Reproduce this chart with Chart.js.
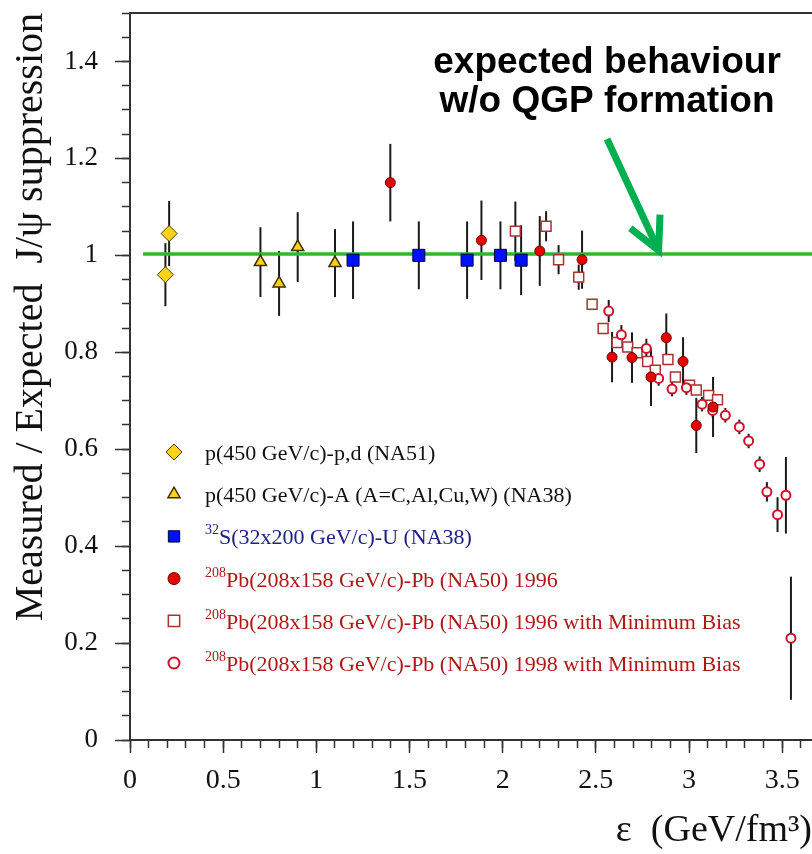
<!DOCTYPE html>
<html lang="en">
<head>
<meta charset="UTF-8">
<title>J/psi suppression vs energy density</title>
<script src="https://cdn.jsdelivr.net/npm/chart.js"></script>
<style>
  html, body { margin: 0; padding: 0; background: #fff; }
  #wrap { width: 812px; height: 854px; }
</style>
</head>
<body>
<div id="wrap"><canvas id="chart" width="812" height="854"></canvas></div>
<script>
// --- data ---
const na51X = [0.19, 0.21];
const na51Y = [0.96, 1.045];
const na51Err = [0.065, 0.067];

const pAX = [0.70, 0.80, 0.90, 1.10];
const pAY = [0.986, 0.942, 1.017, 0.984];
const pAErr = [0.072, 0.067, 0.072, 0.070];

const suX = [1.197, 1.55, 1.809, 1.988, 2.099];
const suY = [0.99, 1.0, 0.99, 1.0, 0.99];
const suErr = [0.08, 0.07, 0.08, 0.07, 0.072];

const pb96X = [1.397, 1.886, 2.199, 2.426, 2.587, 2.694, 2.796, 2.878, 2.968, 3.039, 3.129];
const pb96Y = [1.150, 1.031, 1.009, 0.991, 0.790, 0.789, 0.749, 0.830, 0.781, 0.649, 0.687];
const pb96Err = [0.08, 0.082, 0.072, 0.06, 0.052, 0.052, 0.06, 0.05, 0.05, 0.057, 0.062];

const pb96mbX = [2.068, 2.233, 2.30, 2.408, 2.48, 2.539, 2.614, 2.671, 2.721, 2.778, 2.819, 2.887, 2.927, 3.003, 3.039, 3.105, 3.153];
const pb96mbY = [1.050, 1.060, 0.991, 0.955, 0.899, 0.849, 0.820, 0.811, 0.799, 0.781, 0.763, 0.785, 0.749, 0.732, 0.722, 0.711, 0.702];
const pb96mbErr = [0.061, 0.031, 0.03, 0.026, 0.01, 0.01, 0.01, 0.01, 0.01, 0.01, 0.01, 0.01, 0.01, 0.01, 0.01, 0.01, 0.01];

const pb98mbX = [2.569, 2.637, 2.771, 2.837, 2.909, 2.986, 3.07, 3.127, 3.195, 3.270, 3.320, 3.379, 3.418, 3.475, 3.52, 3.547];
const pb98mbY = [0.885, 0.836, 0.808, 0.746, 0.724, 0.727, 0.693, 0.680, 0.670, 0.646, 0.617, 0.569, 0.512, 0.465, 0.505, 0.210];
const pb98mbErr = [0.023, 0.02, 0.02, 0.015, 0.015, 0.015, 0.015, 0.015, 0.015, 0.015, 0.015, 0.016, 0.02, 0.036, 0.079, 0.127];

// expected behaviour line
const refX = [0.07, 3.66];
const refY = [1.003, 1.003];

const xMax = 3.66;
const yMax = 1.5;

const noteLines = ['expected behaviour', 'w/o QGP formation'];
const noteX = 2.56;
const noteY = [1.398, 1.316];
const arrowFrom = [2.56, 1.24];
const arrowTo = [2.837, 1.01];

const serif = "'Liberation Serif', 'DejaVu Serif', serif";
const fmt = v => String(Math.round(v * 100) / 100);
const toPoints = (xs, ys) => xs.map((x, i) => ({ x, y: ys[i] }));

// keep the plot frame where the reference has it (no label overhang padding)
const fixWidth = w => s => { s.width = w; s.paddingTop = 0; s.paddingBottom = 0; };
const fixHeight = h => s => { s.height = h; s.paddingLeft = 0; s.paddingRight = 0; };

// vertical error bars, drawn under the markers
const errorBars = {
    id: 'errorBars',
    beforeDatasetsDraw(chart) {
        const { ctx } = chart;
        const xs = chart.scales.x, ys = chart.scales.y;
        ctx.save();
        ctx.strokeStyle = '#1a1a1a';
        ctx.lineWidth = 2;
        chart.data.datasets.forEach(ds => {
            if (!ds.errors) return;
            ds.data.forEach((p, i) => {
                const e = ds.errors[i];
                const px = xs.getPixelForValue(p.x);
                ctx.beginPath();
                ctx.moveTo(px, ys.getPixelForValue(p.y - e));
                ctx.lineTo(px, ys.getPixelForValue(p.y + e));
                ctx.stroke();
            });
        });
        ctx.restore();
    }
};

// legend inside the plot, with superscript isotope numbers
const legendBox = {
    id: 'legendBox',
    afterDraw(chart) {
        const { ctx } = chart;
        const markX = 174, textX = 205, top = 452, step = 42.2;
        let row = 0;
        ctx.save();
        chart.data.datasets.forEach(ds => {
            if (!ds.legendColor) return;
            const y = top + row * step;
            ctx.fillStyle = ds.pointBackgroundColor;
            ctx.strokeStyle = ds.pointBorderColor;
            ctx.lineWidth = ds.pointBorderWidth;
            Chart.helpers.drawPoint(ctx, {
                pointStyle: ds.pointStyle,
                radius: ds.legendRadius || ds.pointRadius,
                rotation: 0,
                borderWidth: ds.pointBorderWidth
            }, markX, y);
            ctx.fillStyle = ds.legendColor;
            ctx.textBaseline = 'alphabetic';
            ctx.textAlign = 'left';
            let x = textX;
            if (ds.sup) {
                ctx.font = `14px ${serif}`;
                ctx.fillText(ds.sup, x, y - 2);
                x += ctx.measureText(ds.sup).width;
            }
            ctx.font = `22px ${serif}`;
            ctx.fillText(ds.label, x, y + 8);
            row++;
        });
        ctx.restore();
    }
};

// text note and green arrow
const note = {
    id: 'note',
    afterDatasetsDraw(chart) {
        const { ctx } = chart;
        const xs = chart.scales.x, ys = chart.scales.y;
        ctx.save();
        ctx.fillStyle = '#000';
        ctx.font = "bold 37px 'Liberation Sans', Arial, sans-serif";
        ctx.textAlign = 'center';
        ctx.textBaseline = 'middle';
        noteLines.forEach((t, i) => {
            ctx.fillText(t, xs.getPixelForValue(noteX), ys.getPixelForValue(noteY[i]));
        });

        const x0 = xs.getPixelForValue(arrowFrom[0]), y0 = ys.getPixelForValue(arrowFrom[1]);
        const x1 = xs.getPixelForValue(arrowTo[0]), y1 = ys.getPixelForValue(arrowTo[1]);
        const ang = Math.atan2(y1 - y0, x1 - x0);
        const head = 36, spread = 27 * Math.PI / 180;
        ctx.strokeStyle = '#00b050';
        ctx.lineWidth = 7;
        ctx.lineJoin = 'miter';
        ctx.beginPath();
        ctx.moveTo(x0, y0);
        ctx.lineTo(x1, y1);
        ctx.stroke();
        ctx.beginPath();
        ctx.moveTo(x1 - head * Math.cos(ang - spread), y1 - head * Math.sin(ang - spread));
        ctx.lineTo(x1, y1);
        ctx.lineTo(x1 - head * Math.cos(ang + spread), y1 - head * Math.sin(ang + spread));
        ctx.stroke();
        ctx.restore();
    }
};

const ctx = document.getElementById('chart').getContext('2d');
new Chart(ctx, {
    type: 'scatter',
    data: {
        datasets: [
            {
                label: 'p(450 GeV/c)-p,d (NA51)',
                data: toPoints(na51X, na51Y), errors: na51Err,
                pointStyle: 'rectRot', pointRadius: 8, legendRadius: 8,
                pointBackgroundColor: '#ffd21a', pointBorderColor: '#4a3c00', pointBorderWidth: 1,
                legendColor: '#111', order: 5
            },
            {
                label: 'p(450 GeV/c)-A (A=C,Al,Cu,W) (NA38)',
                data: toPoints(pAX, pAY), errors: pAErr,
                pointStyle: 'triangle', pointRadius: 7,
                pointBackgroundColor: '#ffd21a', pointBorderColor: '#3a3000', pointBorderWidth: 1.5,
                legendColor: '#111', order: 5
            },
            {
                label: 'S(32x200 GeV/c)-U (NA38)', sup: '32',
                data: toPoints(suX, suY), errors: suErr,
                pointStyle: 'rect', pointRadius: 8.5, legendRadius: 8,
                pointBackgroundColor: '#0010ff', pointBorderColor: '#000033', pointBorderWidth: 1,
                legendColor: '#1c2288', order: 4
            },
            {
                label: 'Pb(208x158 GeV/c)-Pb (NA50) 1996', sup: '208',
                data: toPoints(pb96X, pb96Y), errors: pb96Err,
                pointStyle: 'circle', pointRadius: 5, legendRadius: 6,
                pointBackgroundColor: '#e80000', pointBorderColor: '#6a0000', pointBorderWidth: 1,
                legendColor: '#b01818', order: 1
            },
            {
                label: 'Pb(208x158 GeV/c)-Pb (NA50) 1996 with Minimum Bias', sup: '208',
                data: toPoints(pb96mbX, pb96mbY), errors: pb96mbErr,
                pointStyle: 'rect', pointRadius: 7, legendRadius: 8,
                pointBackgroundColor: '#ffffff', pointBorderColor: '#a83232', pointBorderWidth: 1.5,
                legendColor: '#b01818', order: 3
            },
            {
                label: 'Pb(208x158 GeV/c)-Pb (NA50) 1998 with Minimum Bias', sup: '208',
                data: toPoints(pb98mbX, pb98mbY), errors: pb98mbErr,
                pointStyle: 'circle', pointRadius: 4.5, legendRadius: 5.5,
                pointBackgroundColor: '#ffffff', pointBorderColor: '#d0102a', pointBorderWidth: 2,
                legendColor: '#b01818', order: 2
            },
            {
                type: 'line',
                label: 'expected',
                data: toPoints(refX, refY),
                borderColor: '#33b533', borderWidth: 3.5,
                pointRadius: 0, order: 10
            }
        ]
    },
    options: {
        responsive: false,
        animation: false,
        events: [],
        layout: { autoPadding: false, padding: { top: 13, right: 0, left: 0, bottom: 0 } },
        plugins: { legend: { display: false }, tooltip: { enabled: false } },
        scales: {
            x: {
                type: 'linear', position: 'bottom', min: 0, max: xMax, weight: 1,
                afterFit: fixHeight(114),
                ticks: {
                    stepSize: 0.5, includeBounds: false, autoSkip: false, maxRotation: 0,
                    color: '#111', font: { family: serif, size: 28 }, padding: 11,
                    callback: v => fmt(v)
                },
                grid: { drawOnChartArea: false, tickLength: 13, tickColor: '#333', tickWidth: 1.5 },
                border: { color: '#333', width: 2 },
                title: {
                    display: true, text: 'ε  (GeV/fm³)', align: 'end', color: '#111',
                    font: { family: serif, size: 38 }, padding: { top: 0, bottom: 0 }
                }
            },
            xMinor: {
                type: 'linear', position: 'bottom', min: 0, max: xMax, weight: 0,
                afterFit: fixHeight(0),
                ticks: { display: false, stepSize: 0.1, includeBounds: false, maxTicksLimit: 100 },
                grid: { drawOnChartArea: false, tickLength: 8, tickColor: '#333', tickWidth: 1.5 },
                border: { display: false }
            },
            xTop: {
                type: 'linear', position: 'top', min: 0, max: xMax,
                afterFit: fixHeight(0),
                ticks: { display: false },
                grid: { drawOnChartArea: false, drawTicks: false },
                border: { color: '#333', width: 2 }
            },
            y: {
                type: 'linear', position: 'left', min: 0, max: yMax, weight: 1,
                afterFit: fixWidth(130),
                ticks: {
                    stepSize: 0.2, includeBounds: false, color: '#111',
                    font: { family: serif, size: 27 }, padding: 17,
                    callback: v => fmt(v)
                },
                grid: { drawOnChartArea: false, tickLength: 15, tickColor: '#333', tickWidth: 1.5 },
                border: { color: '#333', width: 2 },
                title: {
                    display: true, text: 'Measured / Expected  J/ψ suppression', align: 'end', color: '#111',
                    font: { family: serif, size: 40 }, padding: { top: 7, bottom: 0 }
                }
            },
            yMinor: {
                type: 'linear', position: 'left', min: 0, max: yMax, weight: 0,
                afterFit: fixWidth(0),
                ticks: { display: false, stepSize: 0.05, includeBounds: false, maxTicksLimit: 100 },
                grid: { drawOnChartArea: false, tickLength: 8, tickColor: '#333', tickWidth: 1.5 },
                border: { display: false }
            }
        }
    },
    plugins: [errorBars, note, legendBox]
});
</script>
</body>
</html>
